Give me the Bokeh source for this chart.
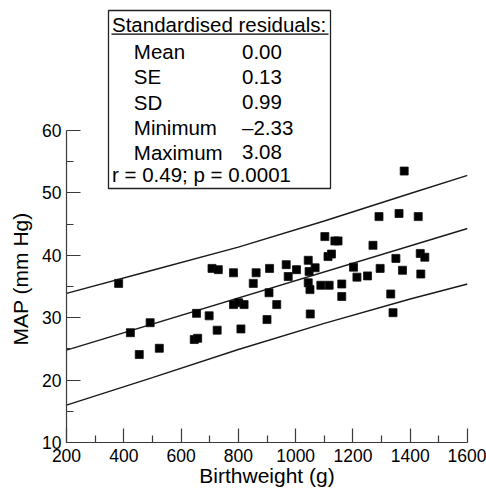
import math
from bokeh.plotting import figure
from bokeh.layouts import row
from bokeh.models import Range1d, FixedTicker, BoxAnnotation, Label
from bokeh.core.properties import value
from bokeh.embed import file_html
from bokeh.resources import INLINE

# ---------------- data ----------------
birthweight = [382, 423, 454, 492, 524, 646, 658, 654, 698, 708, 726, 730, 783, 783,
               801, 809, 820, 852, 862, 900, 907, 909, 934, 967, 974, 1003, 1044, 1047,
               1044, 1050, 1051, 1068, 1088, 1102, 1113, 1117, 1125, 1137, 1148, 1161,
               1161, 1202, 1214, 1251, 1270, 1291, 1295, 1332, 1340, 1350, 1361, 1373,
               1379, 1428, 1435, 1437, 1451]
map_mmhg = [35.5, 27.6, 24.1, 29.2, 25.1, 26.5, 26.7, 30.7, 30.3, 37.9, 28.0, 37.7, 37.2, 32.1,
            32.4, 28.2, 32.1, 35.5, 37.2, 29.7, 34.0, 37.9, 32.1, 38.5, 36.6, 37.7, 39.2, 37.4,
            35.6, 34.5, 30.6, 38.0, 35.2, 43.0, 39.8, 35.2, 40.2, 42.3, 42.3, 35.4,
            33.4, 38.1, 36.5, 36.7, 41.6, 46.2, 37.9, 33.8, 30.8, 39.5, 46.7, 37.6,
            53.5, 46.2, 40.3, 37.0, 39.7]

fit_x = [200, 1600]
fit_y = [24.8, 44.3]
band_x = [200, 500, 800, 1100, 1400, 1600]
band_upper = [33.9, 37.6, 41.3, 45.5, 49.9, 52.8]
band_lower = [16.0, 20.4, 24.9, 29.1, 33.0, 35.4]

x_ticks = [200, 400, 600, 800, 1000, 1200, 1400, 1600]
x_minor = [300, 500, 700, 900, 1100, 1300, 1500]
x_tick_labels = ["200", "400", "600", "800", "1000", "1200", "1400", "1600"]
y_ticks = [10, 20, 30, 40, 50, 60]
y_minor = [15, 25, 35, 45, 55]
y_tick_labels = ["10", "20", "30", "40", "50", "60"]

x_title = "Birthweight (g)"
y_title = "MAP (mm Hg)"
box_title = "Standardised residuals:"
stat_names = ["Mean", "SE", "SD", "Minimum", "Maximum"]
stat_values = ["0.00", "0.13", "0.99", "\u20132.33", "3.08"]
corr_text = "r = 0.49; p = 0.0001"

# ---------------- layout ----------------
W, H = 486, 493
W1 = 34                                 # narrow strip holding the y title
FL, FR, FT, FB = 66, 467, 6, 442        # frame edges in page px
X0, X1 = 200, 1600
Y0 = 10
PX_PER_UNIT = 6.24
Y1 = Y0 + (FB - FT) / PX_PER_UNIT
LBL_SHIFT = -8                          # Label anchor correction
YTITLE_X, YTITLE_Y = 20, 308            # page px of the y title centre


def dx(px):
    return X0 + (px - FL) * (X1 - X0) / (FR - FL)


def dy(py):
    return Y0 + (FB - py) / PX_PER_UNIT


FONT = "Liberation Sans"
BOX_FS = "20.5px"

# ---- strip with the y-axis title ----
ps = figure(width=W1, height=H, output_backend="svg", toolbar_location=None,
            x_range=Range1d(0, W1), y_range=Range1d(H, 0), min_border=0)
ps.axis.visible = False
ps.grid.visible = False
ps.outline_line_color = None
ps.border_fill_color = "white"
ps.text(x=[YTITLE_X], y=[YTITLE_Y], text=[y_title], angle=math.pi / 2,
        text_align="center", text_baseline="middle", text_font=value(FONT),
        text_font_size=value("21px"), text_color="black")

# ---- main chart ----
p = figure(width=W - W1, height=H, output_backend="svg", toolbar_location=None,
           x_range=Range1d(X0, X1), y_range=Range1d(Y0, Y1),
           min_border_left=FL - W1, min_border_right=W - FR,
           min_border_top=FT, min_border_bottom=H - FB)
p.outline_line_color = None
p.xgrid.visible = False
p.ygrid.visible = False
p.background_fill_color = "white"
p.border_fill_color = "white"

for ax in (p.xaxis[0], p.yaxis[0]):
    ax.axis_line_color = "#3a3a3a"
    ax.axis_line_width = 1.2
    ax.major_tick_line_color = "#3a3a3a"
    ax.minor_tick_line_color = "#3a3a3a"
    ax.major_tick_line_width = 1.2
    ax.minor_tick_line_width = 1.2
    ax.major_tick_in = 14
    ax.major_tick_out = 0
    ax.minor_tick_in = 7
    ax.minor_tick_out = 0
    ax.major_label_text_font = FONT
    ax.major_label_text_font_size = "17.5px"
    ax.major_label_text_color = "black"
    ax.axis_label_text_font = FONT
    ax.axis_label_text_font_size = "21px"
    ax.axis_label_text_font_style = "normal"
    ax.axis_label_text_color = "black"

p.xaxis.ticker = FixedTicker(ticks=x_ticks, minor_ticks=x_minor)
p.xaxis.major_label_overrides = {t: s for t, s in zip(x_ticks, x_tick_labels)}
p.xaxis.major_label_standoff = 6
p.xaxis.axis_label = x_title
p.xaxis.axis_label_standoff = -1

p.yaxis.ticker = FixedTicker(ticks=y_ticks, minor_ticks=y_minor)
p.yaxis.major_label_overrides = {t: s for t, s in zip(y_ticks, y_tick_labels)}
p.yaxis.bounds = (y_ticks[0], y_ticks[-1])
p.yaxis.major_label_standoff = 5

# regression and bands
p.line(fit_x, fit_y, line_color="#1a1a1a", line_width=1.4)
p.line(band_x, band_upper, line_color="#1a1a1a", line_width=1.4)
p.line(band_x, band_lower, line_color="#1a1a1a", line_width=1.4)

# points
p.scatter(birthweight, map_mmhg, marker="square", size=8,
          fill_color="black", line_color="#111111", line_width=0.8)

# stats box
box = BoxAnnotation(left=dx(108), right=dx(330), top=dy(10), bottom=dy(188),
                    fill_color="white", fill_alpha=1.0,
                    line_color="#222222", line_width=1.3, line_alpha=1.0)
p.add_layout(box)


def box_label(px, py, txt):
    p.add_layout(Label(x=dx(px), y=dy(py + LBL_SHIFT), text=txt, text_font=FONT,
                       text_font_size=BOX_FS, text_color="black",
                       text_baseline="alphabetic", text_align="left",
                       level="overlay"))


box_label(111.5, 31.7, box_title)
ul = p.segment(x0=[dx(111)], y0=[dy(33.6)], x1=[dx(328)], y1=[dy(33.6)],
               line_color="black", line_width=1.2)
ul.level = "overlay"

row_base = [59, 84, 109.5, 134.5, 159.5]
for name, val, cy in zip(stat_names, stat_values, row_base):
    box_label(133.3, cy, name)
    box_label(241.5, cy, val)

box_label(111.5, 181.5, corr_text)

layout = row(ps, p, spacing=0)
open("out.html", "w").write(file_html(layout, INLINE))
